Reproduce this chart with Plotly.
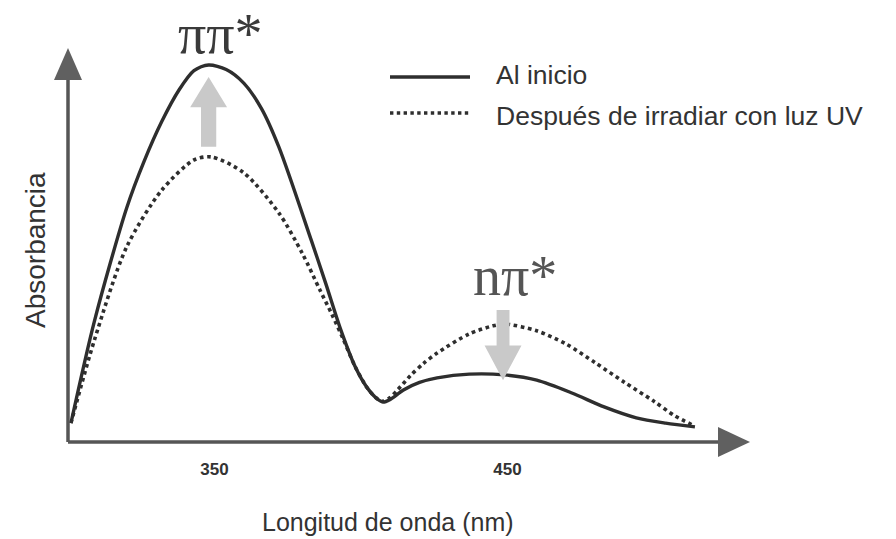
import plotly.graph_objects as go

# Absorption spectrum before irradiation (wavelength in nm, absorbance in a.u.)
x_inicio = [301, 309, 320, 326, 332, 338, 343, 348, 354, 360, 366, 372, 383, 388, 393, 398,
            402, 405, 407.5, 410, 414.5, 420, 426, 437, 449, 460, 472, 483, 494, 504, 514]
y_inicio = [0.05, 0.32, 0.62, 0.745, 0.85, 0.935, 0.985, 1.00, 0.988, 0.952, 0.885, 0.782,
            0.536, 0.42, 0.30, 0.20, 0.145, 0.118, 0.106, 0.113, 0.138, 0.158, 0.17, 0.18,
            0.178, 0.164, 0.13, 0.093, 0.064, 0.05, 0.04]

# Absorption spectrum after UV irradiation
x_irrad = [301, 309, 320, 332, 343, 349, 360, 372, 380, 386, 390, 394, 398, 402, 405, 407.5,
           410, 412.5, 416.9, 421.3, 426, 437, 445, 449, 460, 470, 480, 490, 500, 507, 514]
y_irrad = [0.05, 0.27, 0.517, 0.668, 0.748, 0.756, 0.714, 0.607, 0.50, 0.403, 0.34, 0.272,
           0.20, 0.145, 0.118, 0.108, 0.118, 0.138, 0.176, 0.208, 0.236, 0.287, 0.308, 0.313,
           0.295, 0.26, 0.21, 0.158, 0.108, 0.07, 0.042]

tick_vals = [350, 450]
tick_text = ["350", "450"]
series_names = ["Al inicio", "Después de irradiar con luz UV"]
band_labels = ["ππ*", "nπ*"]

X_RANGE = [300, 532.8]
Y_RANGE = [0, 1.045]
W, H = 896, 539
ML, MR, MT, MB = 68, 146, 48, 97
PW, PH = W - ML - MR, H - MT - MB

AXIS = "#565656"
INK = "#2e2e2e"
ARROW = "#c9c9c9"
SANS = "Liberation Sans, Arial, sans-serif"
SERIF = "Liberation Serif, Times New Roman, serif"


def px_x(px):
    return (px - ML) / PW


def px_y(py):
    return (H - MB - py) / PH


fig = go.Figure()
fig.add_trace(go.Scatter(x=x_inicio, y=y_inicio, mode="lines", name=series_names[0],
                         line=dict(color=INK, width=3.4, shape="spline", smoothing=0.8)))
fig.add_trace(go.Scatter(x=x_irrad, y=y_irrad, mode="lines", name=series_names[1],
                         line=dict(color=INK, width=3.6, dash="dot", shape="spline", smoothing=0.8)))

shapes = []
# axes with arrowheads
shapes.append(dict(type="line", xref="paper", yref="paper", x0=0, x1=px_x(722), y0=0, y1=0,
                   line=dict(color=AXIS, width=3.5)))
shapes.append(dict(type="line", xref="paper", yref="paper", x0=0, x1=0, y0=0, y1=px_y(76),
                   line=dict(color=AXIS, width=3.5)))
shapes.append(dict(type="path", xref="paper", yref="paper",
                   path=f"M {px_x(750)} {px_y(442)} L {px_x(718)} {px_y(427)} L {px_x(718)} {px_y(457)} Z",
                   fillcolor="#606060", line=dict(width=0)))
shapes.append(dict(type="path", xref="paper", yref="paper",
                   path=f"M {px_x(68)} {px_y(48)} L {px_x(54)} {px_y(80)} L {px_x(82)} {px_y(80)} Z",
                   fillcolor="#606060", line=dict(width=0)))


def block_arrow(xc, y_tail, y_tip, head_len, head_half=6.3, shaft_half=2.6):
    d = 1 if y_tip > y_tail else -1
    yb = y_tip - d * head_len
    pts = [(xc - shaft_half, y_tail), (xc - shaft_half, yb), (xc - head_half, yb), (xc, y_tip),
           (xc + head_half, yb), (xc + shaft_half, yb), (xc + shaft_half, y_tail)]
    return "M " + " L ".join(f"{a} {b}" for a, b in pts) + " Z"


# ππ* band: absorbance increases
i1 = y_inicio.index(max(y_inicio))
j1 = y_irrad.index(max(y_irrad))
shapes.append(dict(type="path", xref="x", yref="y", layer="above",
                   path=block_arrow(x_inicio[i1], y_irrad[j1] + 0.027, y_inicio[i1] - 0.032, 0.08),
                   fillcolor=ARROW, line=dict(width=0)))

# nπ* band: absorbance decreases
k2 = max(range(len(x_irrad)), key=lambda k: y_irrad[k] if x_irrad[k] > 420 else -1)
i2 = max(range(len(x_inicio)), key=lambda k: y_inicio[k] if x_inicio[k] > 420 else -1)
shapes.append(dict(type="path", xref="x", yref="y", layer="above",
                   path=block_arrow(x_irrad[k2] - 0.5, y_irrad[k2] + 0.037, y_inicio[i2] - 0.016, 0.092,
                                    head_half=6.3, shaft_half=2.2),
                   fillcolor=ARROW, line=dict(width=0)))

# legend samples
shapes.append(dict(type="line", xref="paper", yref="paper", x0=px_x(390), x1=px_x(470),
                   y0=px_y(77), y1=px_y(77), line=dict(color=INK, width=3.6)))
shapes.append(dict(type="line", xref="paper", yref="paper", x0=px_x(390), x1=px_x(470),
                   y0=px_y(113), y1=px_y(113), line=dict(color=INK, width=3.4, dash="dot")))

annotations = [
    dict(xref="paper", yref="paper", x=px_x(494), y=px_y(75), text=series_names[0],
         showarrow=False, xanchor="left", yanchor="middle",
         font=dict(family=SANS, size=26.5, color="#333")),
    dict(xref="paper", yref="paper", x=px_x(494), y=px_y(116), text=series_names[1],
         showarrow=False, xanchor="left", yanchor="middle",
         font=dict(family=SANS, size=26.5, color="#333")),
    dict(xref="x", yref="y", x=x_inicio[i1] + 4, y=y_inicio[i1], yshift=-2, text=band_labels[0],
         showarrow=False, xanchor="center", yanchor="bottom",
         font=dict(family=SERIF, size=56, color="#3a3a3a")),
    dict(xref="x", yref="y", x=x_irrad[k2] + 3.5, y=y_irrad[k2], yshift=15, text=band_labels[1],
         showarrow=False, xanchor="center", yanchor="bottom",
         font=dict(family=SERIF, size=56, color="#555")),
    dict(xref="paper", yref="paper", x=px_x(388), y=px_y(522), text="Longitud de onda (nm)",
         showarrow=False, xanchor="center", yanchor="middle",
         font=dict(family=SANS, size=25, color="#333")),
    dict(xref="paper", yref="paper", x=px_x(35), y=px_y(250), text="Absorbancia",
         showarrow=False, xanchor="center", yanchor="middle", textangle=-90,
         font=dict(family=SANS, size=28, color="#333")),
]

fig.update_layout(
    width=W, height=H,
    margin=dict(l=ML, r=MR, t=MT, b=MB),
    paper_bgcolor="white", plot_bgcolor="white",
    showlegend=False,
    shapes=shapes,
    annotations=annotations,
    xaxis=dict(range=X_RANGE, showgrid=False, zeroline=False, showline=False,
               tickvals=tick_vals, ticktext=tick_text, ticks="outside", ticklen=12,
               tickcolor="rgba(0,0,0,0)",
               tickfont=dict(family=SANS, size=17, color="#333", weight="bold")),
    yaxis=dict(range=Y_RANGE, showgrid=False, zeroline=False, showline=False,
               showticklabels=False, ticks=""),
)

fig.write_html("out.html")
